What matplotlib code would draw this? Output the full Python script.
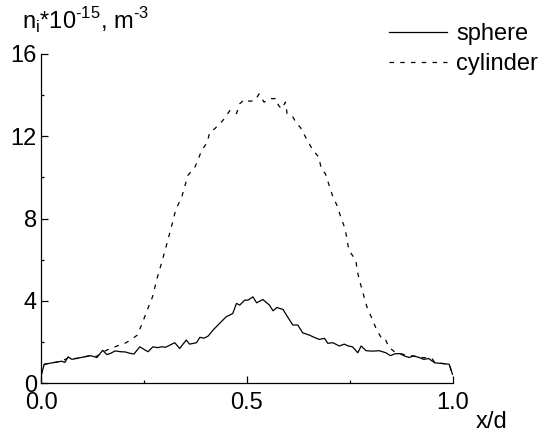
import matplotlib
matplotlib.use("Agg")
import matplotlib.pyplot as plt
from matplotlib.ticker import MultipleLocator

plt.rcParams['font.family'] = ['Liberation Sans', 'DejaVu Sans']
plt.rcParams['mathtext.fontset'] = 'custom'
plt.rcParams['mathtext.rm'] = 'Liberation Sans'

sphere_x = [0.0, 0.008, 0.027, 0.04, 0.05, 0.058, 0.066, 0.075, 0.085, 0.10, 0.12, 0.136,
            0.15, 0.16, 0.17, 0.18, 0.194, 0.205, 0.215, 0.226, 0.24, 0.26, 0.272, 0.283,
            0.293, 0.303, 0.313, 0.325, 0.337, 0.353, 0.361, 0.378, 0.386, 0.396, 0.406,
            0.418, 0.434, 0.45, 0.466, 0.475, 0.483, 0.495, 0.503, 0.515, 0.524, 0.539,
            0.555, 0.564, 0.573, 0.588, 0.6, 0.612, 0.624, 0.636, 0.652, 0.664, 0.676,
            0.689, 0.697, 0.709, 0.725, 0.737, 0.747, 0.757, 0.77, 0.778, 0.79, 0.805,
            0.822, 0.838, 0.849, 0.86, 0.872, 0.885, 0.895, 0.905, 0.919, 0.93, 0.942,
            0.957, 0.975, 0.992, 1.0]
sphere_y = [0.35, 0.91, 0.98, 1.02, 1.06, 1.0, 1.27, 1.15, 1.19, 1.25, 1.33, 1.24,
            1.59, 1.38, 1.45, 1.56, 1.52, 1.51, 1.45, 1.41, 1.76, 1.52, 1.76, 1.72,
            1.76, 1.74, 1.84, 1.96, 1.68, 2.09, 1.89, 1.96, 2.22, 2.18, 2.28,
            2.57, 2.9, 3.22, 3.38, 3.87, 3.79, 4.03, 4.03, 4.19, 3.9, 4.06,
            3.79, 3.51, 3.67, 3.58, 3.19, 2.82, 2.82, 2.44, 2.33, 2.22, 2.12,
            2.17, 1.93, 1.96, 1.8, 1.89, 1.8, 1.76, 1.47, 1.8, 1.57, 1.55,
            1.57, 1.47, 1.33, 1.42, 1.43, 1.3, 1.24, 1.32, 1.24, 1.15, 1.19,
            0.98, 0.95, 0.91, 0.42]

cyl_x = [0.0, 0.008, 0.027, 0.05, 0.066, 0.085, 0.12, 0.136, 0.15, 0.16, 0.19, 0.2,
         0.218, 0.234, 0.246, 0.258, 0.271, 0.283, 0.295, 0.307, 0.319, 0.327, 0.342,
         0.357, 0.374, 0.382, 0.39, 0.404, 0.41, 0.422, 0.442, 0.459, 0.475, 0.483,
         0.495, 0.507, 0.52, 0.53, 0.542, 0.558, 0.572, 0.577, 0.585, 0.594, 0.598,
         0.61, 0.622, 0.63, 0.645, 0.661, 0.675, 0.681, 0.691, 0.699, 0.708, 0.72,
         0.728, 0.739, 0.744, 0.748, 0.765, 0.769, 0.776, 0.784, 0.792, 0.804, 0.816,
         0.828, 0.836, 0.845, 0.86, 0.888, 0.907, 0.926, 0.95, 0.957, 0.975, 0.992, 1.0]
cyl_y = [0.35, 0.91, 0.98, 1.06, 1.22, 1.19, 1.33, 1.3, 1.5, 1.6, 1.84, 1.89,
         2.09, 2.33, 2.9, 3.54, 4.19, 5.16, 5.97, 6.86, 7.75, 8.4, 9.04,
         10.1, 10.5, 10.87, 11.3, 11.7, 12.2, 12.36, 12.77, 13.25, 13.1, 13.58,
         13.8, 13.7, 13.74, 14.06, 13.66, 13.83, 13.83, 13.5, 13.33, 13.66, 13.1,
         13.0, 12.6, 12.44, 11.88, 11.31, 10.99, 10.42, 10.18, 9.69, 9.13, 8.6,
         8.1, 7.5, 6.94, 6.46, 5.97, 5.4, 4.84, 4.27, 3.7, 3.14, 2.57,
         2.17, 2.17, 1.75, 1.5, 1.35, 1.3, 1.24, 1.2, 0.98, 0.95, 0.91, 0.42]

x_ticks = [0.0, 0.5, 1.0]
x_labels = ['0.0', '0.5', '1.0']
y_ticks = [0, 4, 8, 12, 16]
y_labels = ['0', '4', '8', '12', '16']

fig = plt.figure(figsize=(5.45, 4.32), dpi=100)
ax = fig.add_axes([41 / 545, 1 - 383 / 432, 411.5 / 545, 329 / 432])

ax.plot(sphere_x, sphere_y, color='black', lw=0.9, label='sphere')
ax.plot(cyl_x, cyl_y, color='black', lw=0.9, linestyle=(0, (3.6, 5.0)), label='cylinder')

ax.set_xlim(0, 1.0)
ax.set_ylim(0, 16)
ax.spines['top'].set_visible(False)
ax.spines['right'].set_visible(False)
for s in ('left', 'bottom'):
    ax.spines[s].set_linewidth(0.9)

ax.set_xticks(x_ticks)
ax.set_xticklabels(x_labels)
ax.set_yticks(y_ticks)
ax.set_yticklabels(y_labels)
ax.xaxis.set_minor_locator(MultipleLocator(0.25))
ax.yaxis.set_minor_locator(MultipleLocator(2))
ax.tick_params(which='major', direction='in', length=5, width=0.9, labelsize=17)
ax.tick_params(which='minor', direction='in', length=2.5, width=0.9)
ax.tick_params(axis='x', which='major', pad=6.5)
ax.tick_params(axis='y', which='major', pad=3)

fig.text(22 / 545, 1 - 30 / 432,
         'n$_\\mathregular{i}$*10$^\\mathregular{\u201015}$, m$^\\mathregular{\u20103}$',
         fontsize=17, ha='left', va='baseline')
fig.text(476 / 545, 1 - 428 / 432, 'x/d', fontsize=17, ha='left', va='baseline')

leg = fig.legend(loc='upper left', bbox_to_anchor=(389 / 545, 1 - 23 / 432),
                 frameon=False, fontsize=17, handlelength=2.45, handletextpad=0.4,
                 borderpad=0, borderaxespad=0, labelspacing=0.35)

fig.savefig('out.png', dpi=100)
